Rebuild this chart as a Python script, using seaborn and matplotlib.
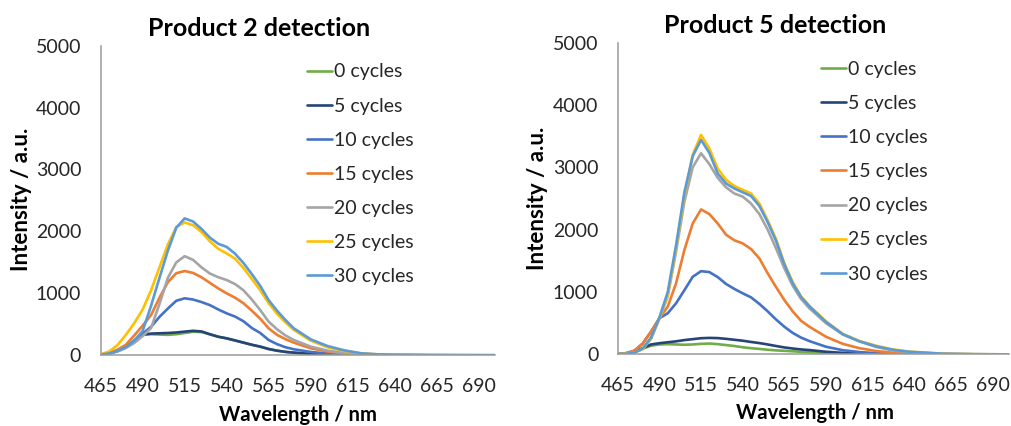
import numpy as np
import pandas as pd
import matplotlib
matplotlib.use("Agg")
import matplotlib.pyplot as plt
import seaborn as sns

sns.set_style("white")
plt.rcParams["font.family"] = ["Lato", "DejaVu Sans"]

# Emission spectra, intensity (a.u.) sampled at these wavelengths (nm)
wavelength = [465, 470, 475, 480, 485, 490, 495, 500, 505, 510, 515, 520, 525,
              530, 535, 540, 545, 550, 555, 560, 565, 570, 575, 580, 590, 600,
              610, 620, 630, 640, 660, 680, 700]

cycle_labels = ["0 cycles", "5 cycles", "10 cycles", "15 cycles",
                "20 cycles", "25 cycles", "30 cycles"]

# Product 2 detection
p2_c0 = [10, 30, 70, 130, 220, 330, 340, 335, 330, 340, 360, 380, 375, 338, 298, 272, 238, 203, 168, 138, 100, 74, 54, 42, 21, 10, 5, 2, 1, 0, 0, 0, 0]
p2_c5 = [10, 30, 70, 130, 220, 335, 350, 355, 360, 368, 382, 395, 385, 340, 300, 274, 240, 205, 170, 140, 102, 75, 55, 43, 22, 10, 5, 2, 1, 0, 0, 0, 0]
p2_c10 = [10, 30, 70, 140, 240, 350, 460, 620, 755, 880, 920, 900, 860, 810, 740, 677, 625, 550, 440, 360, 247, 180, 130, 97, 54, 28, 14, 7, 3, 2, 0, 0, 0]
p2_c15 = [10, 40, 90, 170, 320, 480, 650, 930, 1180, 1325, 1360, 1330, 1260, 1170, 1080, 1000, 930, 840, 720, 590, 435, 330, 260, 204, 113, 60, 30, 15, 8, 4, 1, 0, 0]
p2_c20 = [10, 25, 60, 120, 200, 310, 440, 830, 1250, 1500, 1600, 1540, 1420, 1320, 1260, 1215, 1150, 1050, 900, 730, 543, 420, 320, 247, 140, 75, 40, 20, 10, 5, 2, 0, 0]
p2_c25 = [15, 60, 165, 330, 520, 740, 1050, 1420, 1790, 2070, 2145, 2100, 1990, 1840, 1720, 1645, 1560, 1410, 1230, 1050, 840, 670, 530, 410, 237, 130, 70, 32, 15, 8, 3, 1, 0]
p2_c30 = [10, 30, 70, 128, 235, 395, 800, 1250, 1690, 2060, 2210, 2160, 2040, 1900, 1800, 1750, 1640, 1490, 1310, 1120, 890, 720, 570, 435, 258, 150, 80, 32, 15, 8, 3, 1, 0]

# Product 5 detection
p5_c0 = [5, 15, 40, 95, 140, 160, 165, 160, 155, 160, 170, 175, 165, 150, 135, 115, 100, 88, 75, 65, 58, 50, 42, 35, 25, 15, 8, 4, 2, 1, 0, 0, 0]
p5_c5 = [5, 15, 40, 100, 160, 180, 195, 210, 230, 245, 260, 265, 262, 250, 235, 220, 200, 182, 160, 135, 112, 95, 80, 70, 43, 25, 14, 7, 3, 1, 0, 0, 0]
p5_c10 = [5, 20, 60, 175, 365, 580, 660, 820, 1030, 1245, 1335, 1320, 1240, 1130, 1050, 980, 915, 810, 690, 560, 444, 345, 270, 214, 123, 68, 38, 20, 10, 5, 1, 0, 0]
p5_c15 = [5, 20, 60, 175, 365, 580, 765, 1140, 1675, 2100, 2325, 2250, 2100, 1920, 1830, 1780, 1690, 1540, 1300, 1080, 872, 690, 540, 444, 283, 170, 100, 55, 28, 14, 4, 1, 0]
p5_c20 = [5, 10, 30, 85, 250, 570, 930, 1650, 2450, 3000, 3225, 3050, 2830, 2680, 2580, 2530, 2420, 2250, 2000, 1700, 1380, 1100, 890, 740, 500, 320, 210, 120, 65, 35, 10, 3, 1]
p5_c25 = [5, 10, 30, 90, 260, 580, 950, 1700, 2550, 3200, 3520, 3300, 2980, 2800, 2700, 2640, 2580, 2420, 2150, 1850, 1460, 1160, 930, 780, 530, 330, 215, 140, 80, 45, 12, 4, 1]
p5_c30 = [5, 10, 30, 95, 270, 590, 1000, 1750, 2600, 3180, 3440, 3230, 2900, 2740, 2660, 2600, 2540, 2380, 2120, 1820, 1440, 1140, 920, 770, 520, 325, 210, 130, 75, 42, 12, 4, 1]

product2 = [p2_c0, p2_c5, p2_c10, p2_c15, p2_c20, p2_c25, p2_c30]
product5 = [p5_c0, p5_c5, p5_c10, p5_c15, p5_c20, p5_c25, p5_c30]

palette = ["#70AD47", "#264478", "#4472C4", "#ED7D31", "#A5A5A5", "#FFC000", "#5B9BD5"]

x_ticks = [465, 490, 515, 540, 565, 590, 615, 640, 665, 690]
y_ticks = [0, 1000, 2000, 3000, 4000, 5000]


def to_frame(series):
    rows = []
    for label, values in zip(cycle_labels, series):
        for wl, v in zip(wavelength, values):
            rows.append({"Wavelength": wl, "Intensity": v, "Cycles": label})
    return pd.DataFrame(rows)


fig = plt.figure(figsize=(10.12, 4.26), dpi=100)
ax1 = fig.add_axes([0.0995, 0.166, 0.390, 0.727])
ax2 = fig.add_axes([0.6104, 0.168, 0.3870, 0.732])

axis_grey = "#9A9A9A"
tick_text = "#262626"

panels = [
    (ax1, product2, "Product 2 detection", (0.256, 0.934), 0.0208, 0.531, 0.294, 0.026, (0.303, 0.851)),
    (ax2, product5, "Product 5 detection", (0.766, 0.941), 0.5316, 0.535, 0.805, 0.030, (0.811, 0.857)),
]

for ax, series, title, tpos, ylx, yly, xlx, xly, legpos in panels:
    df = to_frame(series)
    sns.lineplot(data=df, x="Wavelength", y="Intensity", hue="Cycles",
                 hue_order=cycle_labels, palette=palette, sort=False,
                 estimator=None, linewidth=1.9, legend="full", ax=ax)
    ax.set_xlim(465, 700)
    ax.set_ylim(0, 5000)
    ax.set_xticks(x_ticks)
    ax.set_yticks(y_ticks)
    ax.set_xlabel("")
    ax.set_ylabel("")
    for side in ["top", "right"]:
        ax.spines[side].set_visible(False)
    for side in ["left", "bottom"]:
        ax.spines[side].set_color(axis_grey)
        ax.spines[side].set_linewidth(1.1)
    ax.tick_params(axis="both", direction="in", length=5, width=1.0,
                   color=axis_grey, labelsize=14, labelcolor=tick_text)
    ax.tick_params(axis="x", pad=16)
    ax.tick_params(axis="y", pad=14)

    handles, labels = ax.get_legend_handles_labels()
    for h in handles:
        h.set_linewidth(1.9)
    ax.legend(handles, labels, loc="upper left", bbox_to_anchor=legpos,
              bbox_transform=fig.transFigure, frameon=False, fontsize=14,
              handlelength=1.3, handletextpad=0.12, labelspacing=0.88,
              borderpad=0, borderaxespad=0, labelcolor=tick_text)

    fig.text(tpos[0], tpos[1], title, ha="center", va="center",
             fontsize=18, fontweight="bold", color="black")
    fig.text(ylx, yly, "Intensity / a.u.", rotation=90, ha="center",
             va="center", fontsize=16, fontweight="bold", color="black")
    fig.text(xlx, xly, "Wavelength / nm", ha="center", va="center",
             fontsize=14.6, fontweight="bold", color="black")

fig.savefig("out.png", dpi=100)
